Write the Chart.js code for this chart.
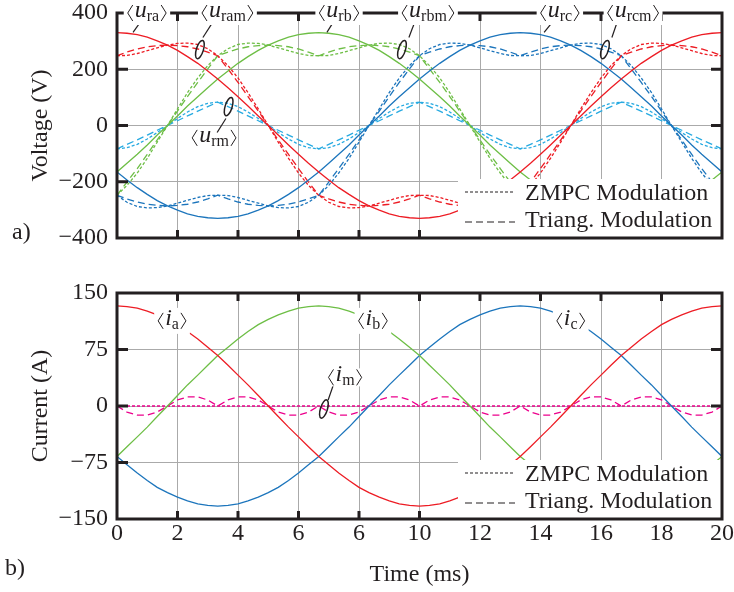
<!DOCTYPE html>
<html>
<head>
<meta charset="utf-8">
<script src="https://cdn.jsdelivr.net/npm/chart.js@4.4.1/dist/chart.umd.min.js"></script>
<style>
html, body { margin: 0; padding: 0; background: #fff; }
#wrap { position: relative; width: 734px; height: 592px; }
canvas { position: absolute; left: 0; }
#voltageChart { top: 0; }
#currentChart { top: 260px; }
</style>
</head>
<body>
<div id="wrap">
<canvas id="voltageChart" width="734" height="260"></canvas>
<canvas id="currentChart" width="734" height="332"></canvas>
</div>
<script>
// time in ms, a sample every 1/3 ms
const time = [0,0.33,0.67,1,1.33,1.67,2,2.33,2.67,3,3.33,3.67,4,4.33,4.67,5,5.33,5.67,6,6.33,6.67,7,7.33,7.67,8,8.33,8.67,9,9.33,9.67,10,10.33,10.67,11,11.33,11.67,12,12.33,12.67,13,13.33,13.67,14,14.33,14.67,15,15.33,15.67,16,16.33,16.67,17,17.33,17.67,18,18.33,18.67,19,19.33,19.67,20];

const timeTicks = [0,2,4,6,8,10,12,14,16,18,20];
const timeTickLabels = ['0','2','4','6','6','10','12','14','16','18','20'];
const voltageTicks = [-400,-200,0,200,400];
const voltageTickLabels = ['\u2212400','\u2212200','0','200','400'];
const currentTicks = [-150,-75,0,75,150];
const currentTickLabels = ['\u2212150','\u221275','0','75','150'];
const legendNames = ['ZMPC Modulation','Triang. Modulation'];

// reference voltages (V)
const ura = [330,328,323,314,301,286,267,245,221,194,165,134,102,69,34,0,-34,-69,-102,-134,-165,-194,-221,-245,-267,-286,-301,-314,-323,-328,-330,-328,-323,-314,-301,-286,-267,-245,-221,-194,-165,-134,-102,-69,-34,0,34,69,102,134,165,194,221,245,267,286,301,314,323,328,330];
const urb = [-165,-134,-102,-69,-34,0,34,69,102,134,165,194,221,245,267,286,301,314,323,328,330,328,323,314,301,286,267,245,221,194,165,134,102,69,34,0,-34,-69,-102,-134,-165,-194,-221,-245,-267,-286,-301,-314,-323,-328,-330,-328,-323,-314,-301,-286,-267,-245,-221,-194,-165];
const urc = [-165,-194,-221,-245,-267,-286,-301,-314,-323,-328,-330,-328,-323,-314,-301,-286,-267,-245,-221,-194,-165,-134,-102,-69,-34,0,34,69,102,134,165,194,221,245,267,286,301,314,323,328,330,328,323,314,301,286,267,245,221,194,165,134,102,69,34,0,-34,-69,-102,-134,-165];

// modulated voltages, ZMPC (dotted)
const uramZ = [248,249,256,266,276,286,292,293,288,273,248,213,169,117,59,0,-59,-117,-169,-213,-248,-273,-288,-293,-292,-286,-276,-266,-256,-249,-248,-249,-256,-266,-276,-286,-292,-293,-288,-273,-248,-213,-169,-117,-59,0,59,117,169,213,248,273,288,293,292,286,276,266,256,249,248];
const urbmZ = [-248,-213,-169,-117,-59,0,59,117,169,213,248,273,288,293,292,286,276,266,256,249,248,249,256,266,276,286,292,293,288,273,248,213,169,117,59,0,-59,-117,-169,-213,-248,-273,-288,-293,-292,-286,-276,-266,-256,-249,-248,-249,-256,-266,-276,-286,-292,-293,-288,-273,-248];
const urcmZ = [-248,-273,-288,-293,-292,-286,-276,-266,-256,-249,-248,-249,-256,-266,-276,-286,-292,-293,-288,-273,-248,-213,-169,-117,-59,0,59,117,169,213,248,273,288,293,292,286,276,266,256,249,248,249,256,266,276,286,292,293,288,273,248,213,169,117,59,0,-59,-117,-169,-213,-248];
const urmZ = [-83,-79,-67,-48,-25,0,25,48,67,79,83,79,67,48,25,0,-25,-48,-67,-79,-83,-79,-67,-48,-25,0,25,48,67,79,83,79,67,48,25,0,-25,-48,-67,-79,-83,-79,-67,-48,-25,0,25,48,67,79,83,79,67,48,25,0,-25,-48,-67,-79,-83];

// modulated voltages, triangular (dashed)
const uramT = [248,261,272,280,284,286,284,280,272,261,248,201,153,103,51,0,-51,-103,-153,-201,-248,-261,-272,-280,-284,-286,-284,-280,-272,-261,-248,-261,-272,-280,-284,-286,-284,-280,-272,-261,-248,-201,-153,-103,-51,0,51,103,153,201,248,261,272,280,284,286,284,280,272,261,248];
const urbmT = [-248,-201,-153,-103,-51,0,51,103,153,201,248,261,272,280,284,286,284,280,272,261,248,261,272,280,284,286,284,280,272,261,248,201,153,103,51,0,-51,-103,-153,-201,-248,-261,-272,-280,-284,-286,-284,-280,-272,-261,-248,-261,-272,-280,-284,-286,-284,-280,-272,-261,-248];
const urcmT = [-248,-261,-272,-280,-284,-286,-284,-280,-272,-261,-248,-261,-272,-280,-284,-286,-284,-280,-272,-261,-248,-201,-153,-103,-51,0,51,103,153,201,248,261,272,280,284,286,284,280,272,261,248,261,272,280,284,286,284,280,272,261,248,201,153,103,51,0,-51,-103,-153,-201,-248];
const urmT = [-83,-67,-51,-34,-17,0,17,34,51,67,83,67,51,34,17,0,-17,-34,-51,-67,-83,-67,-51,-34,-17,0,17,34,51,67,83,67,51,34,17,0,-17,-34,-51,-67,-83,-67,-51,-34,-17,0,17,34,51,67,83,67,51,34,17,0,-17,-34,-51,-67,-83];

// phase currents (A)
const ia = [133,132,130,126,121,115,108,99,89,78,67,54,41,28,14,0,-14,-28,-41,-54,-67,-78,-89,-99,-108,-115,-121,-126,-130,-132,-133,-132,-130,-126,-121,-115,-108,-99,-89,-78,-67,-54,-41,-28,-14,0,14,28,41,54,67,78,89,99,108,115,121,126,130,132,133];
const ib = [-67,-54,-41,-28,-14,0,14,28,41,54,67,78,89,99,108,115,121,126,130,132,133,132,130,126,121,115,108,99,89,78,67,54,41,28,14,0,-14,-28,-41,-54,-67,-78,-89,-99,-108,-115,-121,-126,-130,-132,-133,-132,-130,-126,-121,-115,-108,-99,-89,-78,-67];
const ic = [-67,-78,-89,-99,-108,-115,-121,-126,-130,-132,-133,-132,-130,-126,-121,-115,-108,-99,-89,-78,-67,-54,-41,-28,-14,0,14,28,41,54,67,78,89,99,108,115,121,126,130,132,133,132,130,126,121,115,108,99,89,78,67,54,41,28,14,0,-14,-28,-41,-54,-67];
const imZ = [0,0,0,0,0,0,0,0,0,0,0,0,0,0,0,0,0,0,0,0,0,0,0,0,0,0,0,0,0,0,0,0,0,0,0,0,0,0,0,0,0,0,0,0,0,0,0,0,0,0,0,0,0,0,0,0,0,0,0,0,0];
const imT = [0,-8,-12,-12,-8,0,8,12,12,8,0,8,12,12,8,0,-8,-12,-12,-8,0,-8,-12,-12,-8,0,8,12,12,8,0,8,12,12,8,0,-8,-12,-12,-8,0,-8,-12,-12,-8,0,8,12,12,8,0,8,12,12,8,0,-8,-12,-12,-8,0];

const RED = '#ed1c24', GREEN = '#6dbe45', BLUE = '#1c75bc', CYAN = '#27aae1', MAGENTA = '#ec008c';
const INK = '#231f20';
const SERIF = '"Liberation Serif", "Times New Roman", serif';
const FONT_SIZE = 24;
const DOT = [3, 2], DASH = [7, 4];

function series(data, color, dash) {
    return { data: data, borderColor: color, borderWidth: 1.3, borderDash: dash || [], pointRadius: 0, tension: 0, fill: false };
}

// <u_xx> style label, centred on cx, brackets centred on midY
function drawTag(ctx, cx, midY, main, sub, box) {
    ctx.font = 'italic 24px ' + SERIF;
    let wm = ctx.measureText(main).width;
    ctx.font = '16px ' + SERIF;
    let ws = ctx.measureText(sub).width;
    let br = 5, gap = 2;
    let w = br + gap + wm + ws + gap + br;
    let x0 = cx - w / 2;
    let base = midY + 4;
    if (box) {
        ctx.fillStyle = '#fff';
        ctx.fillRect(x0 - box[0], midY - box[1], w + 2 * box[0], box[1] + box[2]);
    }
    ctx.strokeStyle = INK; ctx.lineWidth = 1; ctx.setLineDash([]);
    ctx.beginPath();
    ctx.moveTo(x0 + br, midY - 8); ctx.lineTo(x0, midY); ctx.lineTo(x0 + br, midY + 8);
    ctx.moveTo(x0 + w - br, midY - 8); ctx.lineTo(x0 + w, midY); ctx.lineTo(x0 + w - br, midY + 8);
    ctx.stroke();
    ctx.fillStyle = INK; ctx.textAlign = 'left'; ctx.textBaseline = 'alphabetic';
    ctx.font = 'italic 24px ' + SERIF;
    ctx.fillText(main, x0 + br + gap, base);
    ctx.font = '16px ' + SERIF;
    ctx.fillText(sub, x0 + br + gap + wm, base + 4);
}

function makeFrame(spec) {
    return {
        id: 'frame',
        afterDatasetsDraw(chart) {
            let ctx = chart.ctx, a = chart.chartArea;
            let xs = chart.scales.x, ys = chart.scales.y;
            ctx.save();
            // inward tick marks
            ctx.strokeStyle = INK; ctx.lineWidth = 3; ctx.setLineDash([]);
            ctx.beginPath();
            xs.ticks.slice(1, -1).forEach(t => {
                let px = xs.getPixelForValue(t.value);
                ctx.moveTo(px, a.top); ctx.lineTo(px, a.top + 8);
                ctx.moveTo(px, a.bottom); ctx.lineTo(px, a.bottom - 8);
            });
            ys.ticks.slice(1, -1).forEach(t => {
                let py = ys.getPixelForValue(t.value);
                ctx.moveTo(a.left, py); ctx.lineTo(a.left + 11, py);
                ctx.moveTo(a.right, py); ctx.lineTo(a.right - 11, py);
            });
            ctx.stroke();
            // legend in the lower right corner
            let lx = a.right - 264, ly = a.bottom - 59;
            ctx.fillStyle = '#fff';
            ctx.fillRect(lx, ly, a.right - lx, a.bottom - ly);
            let rowLine = [a.bottom - 46, a.bottom - 16], rowText = [a.bottom - 44, a.bottom - 17];
            legendNames.forEach((name, i) => {
                ctx.strokeStyle = INK; ctx.lineWidth = 1.2;
                ctx.setLineDash(i == 0 ? DOT : DASH);
                ctx.beginPath(); ctx.moveTo(lx + 7, rowLine[i]); ctx.lineTo(lx + 57, rowLine[i]); ctx.stroke();
                ctx.setLineDash([]);
                ctx.fillStyle = INK; ctx.font = FONT_SIZE + 'px ' + SERIF;
                ctx.textAlign = 'left'; ctx.textBaseline = 'middle';
                ctx.fillText(name, lx + 67, rowText[i]);
            });
            // frame
            ctx.strokeStyle = INK; ctx.lineWidth = 3;
            ctx.strokeRect(a.left, a.top, a.right - a.left, a.bottom - a.top);
            // leader lines and loops
            ctx.lineWidth = 1.2;
            spec.leaders.forEach(l => {
                ctx.beginPath();
                ctx.moveTo(xs.getPixelForValue(l[0]), ys.getPixelForValue(l[1]));
                ctx.lineTo(xs.getPixelForValue(l[2]), ys.getPixelForValue(l[3]));
                ctx.stroke();
            });
            ctx.lineWidth = 1.5;
            spec.loops.forEach(l => {
                ctx.beginPath();
                ctx.ellipse(xs.getPixelForValue(l[0]), ys.getPixelForValue(l[1]), 3.5, 9.5, 0.3, 0, Math.PI * 2);
                ctx.stroke();
            });
            spec.tags.forEach(t => {
                drawTag(ctx, xs.getPixelForValue(t.x), ys.getPixelForValue(t.y), t.main, t.sub, t.box);
            });
            ctx.restore();
        },
        afterDraw(chart) {
            let ctx = chart.ctx;
            ctx.save();
            ctx.fillStyle = INK; ctx.font = FONT_SIZE + 'px ' + SERIF;
            ctx.textAlign = 'left'; ctx.textBaseline = 'alphabetic';
            ctx.fillText(spec.panel[0], spec.panel[1], spec.panel[2]);
            ctx.restore();
        }
    };
}

function options(yTicks, yLabels, yMin, yMax, yTitle, showTime, xHeight, padTop) {
    let font = { family: SERIF, size: FONT_SIZE };
    return {
        responsive: false,
        animation: false,
        events: [],
        layout: { autoPadding: false, padding: { top: padTop, right: 12, left: 0, bottom: 0 } },
        plugins: { legend: { display: false }, tooltip: { enabled: false } },
        scales: {
            x: {
                type: 'linear', min: 0, max: 20,
                afterBuildTicks: s => { s.ticks = timeTicks.map(v => ({ value: v })); },
                afterFit: s => { s.height = xHeight; s.paddingLeft = 0; s.paddingRight = 0; },
                ticks: { display: showTime, padding: 0, font: font, color: INK, maxRotation: 0, autoSkip: false,
                         callback: (v, i) => timeTickLabels[i] },
                grid: { color: '#aaaaaa', lineWidth: 1, drawTicks: false },
                border: { display: false },
                title: { display: showTime, text: 'Time (ms)', font: font, color: INK, padding: { top: 0, bottom: 3 } }
            },
            y: {
                min: yMin, max: yMax,
                afterBuildTicks: s => { s.ticks = yTicks.map(v => ({ value: v })); },
                afterFit: s => { s.width = 117; s.paddingTop = 0; s.paddingBottom = 0; },
                ticks: { padding: 9, font: font, color: INK, callback: (v, i) => yLabels[i] },
                grid: { color: '#aaaaaa', lineWidth: 1, drawTicks: false },
                border: { display: false },
                title: { display: true, text: yTitle, font: font, color: INK, padding: { top: 26, bottom: 0 } }
            }
        }
    };
}

const topBox = [4, 12, 12];

new Chart(document.getElementById('voltageChart'), {
    type: 'line',
    data: {
        labels: time,
        datasets: [
            series(ura, RED), series(urb, GREEN), series(urc, BLUE),
            series(uramZ, RED, DOT), series(urbmZ, GREEN, DOT), series(urcmZ, BLUE, DOT),
            series(uramT, RED, DASH), series(urbmT, GREEN, DASH), series(urcmT, BLUE, DASH),
            series(urmZ, CYAN, DOT), series(urmT, CYAN, DASH)
        ]
    },
    options: options(voltageTicks, voltageTickLabels, -400, 400, 'Voltage (V)', false, 22, 13),
    plugins: [makeFrame({
        panel: ['a)', 12, 239],
        tags: [
            { x: 0.99, y: 400, main: 'u', sub: 'ra', box: topBox },
            { x: 3.65, y: 400, main: 'u', sub: 'ram', box: topBox },
            { x: 7.34, y: 400, main: 'u', sub: 'rb', box: topBox },
            { x: 10.28, y: 400, main: 'u', sub: 'rbm', box: topBox },
            { x: 14.64, y: 400, main: 'u', sub: 'rc', box: topBox },
            { x: 17.06, y: 400, main: 'u', sub: 'rcm', box: topBox },
            { x: 3.21, y: -44, main: 'u', sub: 'rm', box: null }
        ],
        leaders: [
            [0.76, 366, 0.53, 331], [3.14, 363, 2.84, 313], [7.14, 366, 6.94, 331],
            [9.85, 370, 9.65, 313], [14.38, 366, 14.12, 331], [16.53, 366, 16.36, 313],
            [3.31, -25, 3.60, 25]
        ],
        loops: [[2.74, 270], [9.42, 270], [16.13, 270], [3.69, 67]]
    })]
});

new Chart(document.getElementById('currentChart'), {
    type: 'line',
    data: {
        labels: time,
        datasets: [
            series(ia, RED), series(ib, GREEN), series(ic, BLUE),
            series(imZ, MAGENTA, DOT), series(imT, MAGENTA, DASH)
        ]
    },
    options: options(currentTicks, currentTickLabels, -150, 150, 'Current (A)', true, 73, 33),
    plugins: [makeFrame({
        panel: ['b)', 5, 315],
        tags: [
            { x: 1.82, y: 113, main: 'i', sub: 'a', box: [4, 13, 13] },
            { x: 8.46, y: 113, main: 'i', sub: 'b', box: [4, 13, 13] },
            { x: 15.0, y: 113, main: 'i', sub: 'c', box: [4, 13, 13] },
            { x: 7.54, y: 38, main: 'i', sub: 'm', box: [3, 9, 9] }
        ],
        leaders: [[7.14, 26.5, 6.98, 8]],
        loops: [[6.84, -4]]
    })]
});
</script>
</body>
</html>
